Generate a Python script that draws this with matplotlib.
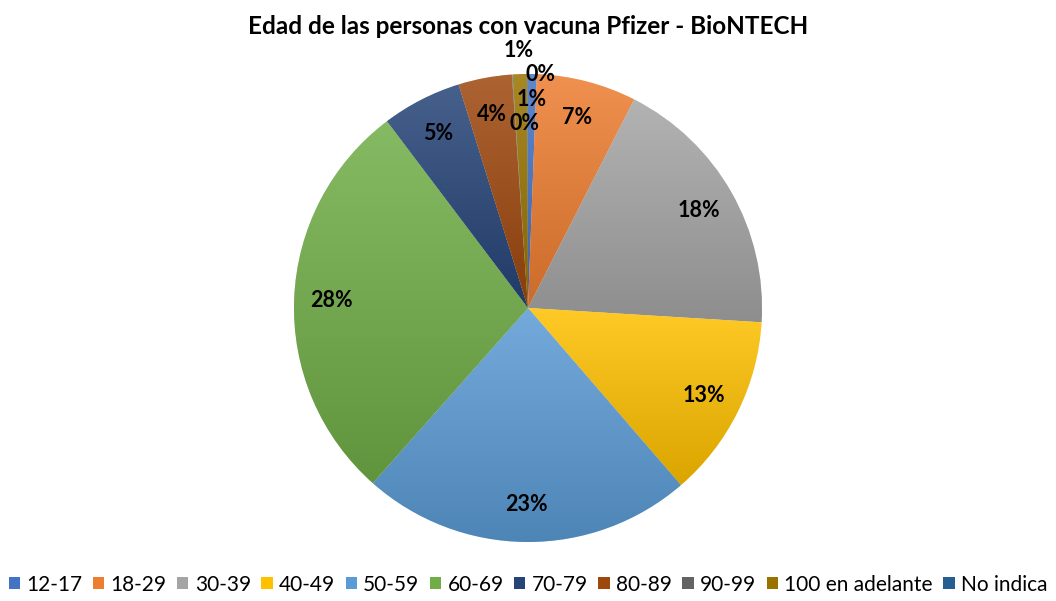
import numpy as np
import matplotlib
matplotlib.use("Agg")
import matplotlib.pyplot as plt
from matplotlib.colors import to_rgb
from matplotlib.patches import Patch

plt.rcParams['font.family'] = ['Lato', 'DejaVu Sans']

# data (percent share per age group)
groups = ['12-17', '18-29', '30-39', '40-49', '50-59', '60-69', '70-79',
          '80-89', '90-99', '100 en adelante', 'No indica']
values = [0.6, 6.9, 18.5, 12.7, 22.9, 28.2, 5.5, 3.7, 0.05, 1.0, 0.05]
colors = ['#4472C4', '#ED7D31', '#A5A5A5', '#FFC000', '#5B9BD5', '#70AD47',
          '#264478', '#9E480E', '#636363', '#997300', '#255E91']

W, H = 1056, 601
fig = plt.figure(figsize=(W / 100, H / 100), dpi=100)
cx, cy, r = 528, 308, 234
ax = fig.add_axes([(cx - r) / W, (H - cy - r) / H, 2 * r / W, 2 * r / H])

wedges, texts, autotexts = ax.pie(
    values, colors=colors, startangle=90, counterclock=False, radius=1,
    autopct=lambda p: f'{p:.0f}%', pctdistance=0.84,
    wedgeprops=dict(edgecolor='white', linewidth=0.4),
    textprops=dict(fontsize=15.5, fontweight='bold', color='black'))
ax.axis('off')

# gradient fill, light at top to darker at bottom
for w, c in zip(wedges, colors):
    base = np.array(to_rgb(c))
    top = base + (1 - base) * 0.15
    bot = base * 0.86
    t = np.linspace(0, 1, 64)[:, None]
    grad = (top[None, :] * (1 - t) + bot[None, :] * t)[:, None, :]
    ext = w.get_path().get_extents()
    ext = w.get_transform().transform_bbox(ext)
    ext = ax.transData.inverted().transform_bbox(ext)
    im = ax.imshow(grad, extent=[ext.x0, ext.x1, ext.y0, ext.y1],
                   aspect='auto', origin='upper', zorder=1.5, interpolation='bilinear')
    im.set_clip_path(w)
    w.set_zorder(1)

ax.set_xlim(-1, 1)
ax.set_ylim(-1, 1)

# small slices: move labels like the original
def place(txt, idx, rad, dang=0.0):
    ang = 90 - (sum(values[:idx]) + values[idx] / 2) / sum(values) * 360 + dang
    a = np.deg2rad(ang)
    txt.set_position((rad * np.cos(a), rad * np.sin(a)))

for t in autotexts:
    t.set_zorder(5)
place(autotexts[0], 0, 0.89)
place(autotexts[8], 8, 0.79, -2.8)
place(autotexts[9], 9, 1.10)
place(autotexts[10], 10, 1.0, -3.2)

fig.text(0.5, 1 - 26 / H, 'Edad de las personas con vacuna Pfizer - BioNTECH',
         ha='center', va='center', fontsize=17.5, fontweight='bold')

handles = [Patch(facecolor=c) for c in colors]
fig.legend(handles, groups, loc='lower center', ncol=len(groups),
           bbox_to_anchor=(0.5, -0.01), frameon=False, fontsize=15,
           handlelength=0.55, handleheight=0.55, handletextpad=0.3,
           columnspacing=0.5, borderaxespad=0.2)

fig.savefig('out.png', dpi=100)
